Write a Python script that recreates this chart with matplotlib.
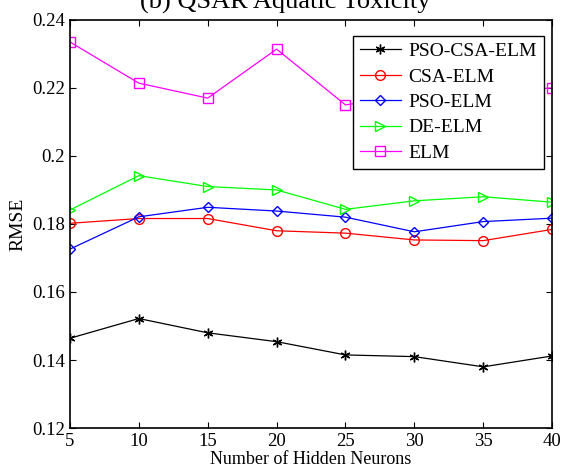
import matplotlib
matplotlib.use("Agg")
import matplotlib.pyplot as plt

plt.rcParams["font.family"] = ["Liberation Serif", "DejaVu Serif"]

# Data
neurons = [5, 10, 15, 20, 25, 30, 35, 40]
pso_csa_elm = [0.1464, 0.1522, 0.1480, 0.1454, 0.1415, 0.1410, 0.1380, 0.1412]
csa_elm = [0.1802, 0.1816, 0.1816, 0.1780, 0.1773, 0.1753, 0.1751, 0.1784]
pso_elm = [0.1726, 0.1821, 0.1849, 0.1838, 0.1820, 0.1777, 0.1807, 0.1817]
de_elm = [0.1841, 0.1942, 0.1910, 0.1900, 0.1843, 0.1868, 0.1880, 0.1864]
elm = [0.2335, 0.2214, 0.2170, 0.2314, 0.2150, 0.2180, 0.2185, 0.2200]

yticks = [0.12, 0.14, 0.16, 0.18, 0.20, 0.22, 0.24]
ytick_labels = ["0.12", "0.14", "0.16", "0.18", "0.2", "0.22", "0.24"]

fig = plt.figure(figsize=(5.64, 4.73), dpi=100)
ax = fig.add_axes([0.124, 0.095, 0.855, 0.863])

lw = 0.9
ax.plot(neurons, pso_csa_elm, color="black", marker=(6, 2, 0), markersize=7, lw=lw, label="PSO-CSA-ELM")
ax.plot(neurons, csa_elm, color="red", marker="o", markersize=7, mfc="none", lw=lw, label="CSA-ELM")
ax.plot(neurons, pso_elm, color="blue", marker="D", markersize=5.5, mfc="none", lw=lw, label="PSO-ELM")
ax.plot(neurons, de_elm, color="#00ff00", marker=">", markersize=7, mfc="none", lw=lw, label="DE-ELM")
ax.plot(neurons, elm, color="magenta", marker="s", markersize=6.5, mfc="none", lw=lw, label="ELM")

ax.set_xlim(5, 40)
ax.set_ylim(0.12, 0.24)
ax.set_xticks(neurons)
ax.set_yticks(yticks)
ax.set_yticklabels(ytick_labels)
ax.tick_params(direction="in", top=True, right=True, length=4, labelsize=13.5)
for s in ax.spines.values():
    s.set_linewidth(1.2)

ax.set_xlabel("Number of Hidden Neurons", fontsize=13, labelpad=1)
ax.set_ylabel("RMSE", fontsize=14, labelpad=4)

leg = ax.legend(loc="upper right", bbox_to_anchor=(0.983, 0.961), borderaxespad=0,
                fontsize=14, frameon=True, fancybox=False, edgecolor="black",
                framealpha=1, handlelength=2.1, borderpad=0.35, labelspacing=0.4,
                handletextpad=0.4)
leg.get_frame().set_linewidth(1.0)

fig.text(0.505, 1 - 9 / 473, "(b) QSAR Aquatic Toxicity", ha="center", va="baseline", fontsize=19)

fig.savefig("out.png", dpi=100)
